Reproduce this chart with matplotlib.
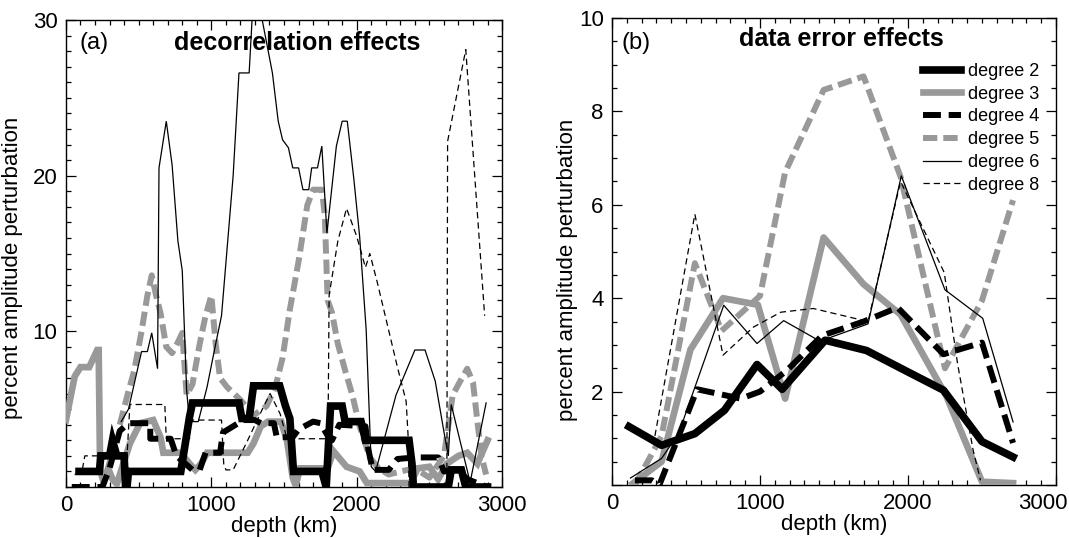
import matplotlib
matplotlib.use('Agg')
import matplotlib.pyplot as plt
from matplotlib.ticker import MultipleLocator
from matplotlib.transforms import ScaledTranslation

plt.rcParams['font.family'] = ['Liberation Sans', 'DejaVu Sans']

# ---- panel (a): decorrelation effects (depth in km, percent) ----
a_deg2_x = [90, 230, 240, 300, 320, 350, 400, 410, 420, 430, 790, 850, 870, 1190, 1210, 1260, 1290, 1470,
            1510, 1540, 1565, 1760, 1790, 1820, 1900, 1920, 2030, 2060, 2360, 2380, 2390, 2630, 2650, 2720,
            2750, 2900]
a_deg2_y = [1.0, 1.0, 2.0, 2.0, 3.0, 2.0, 2.0, 0.0, 0.0, 1.0, 1.0, 4.5, 5.4, 5.4, 4.4, 4.4, 6.5, 6.5,
            5.2, 4.4, 1.0, 1.0, 0.0, 5.2, 5.2, 4.2, 4.2, 3.0, 3.0, 1.5, 0.0, 0.0, 1.1, 1.1,
            0.0, 0.0]

a_deg3_x = [0, 60, 100, 160, 215, 225, 235, 260, 290, 320, 350, 440, 510, 600, 650, 670, 790, 850, 890,
            930, 970, 1250, 1290, 1340, 1390, 1480, 1520, 1560, 1580, 1610, 1800, 1840, 1930, 2020, 2070,
            2370, 2420, 2500, 2560, 2620, 2700, 2760, 2830, 2900]
a_deg3_y = [4.3, 7.1, 7.7, 7.7, 8.8, 8.8, 1.1, 0.3, 1.2, 0.5, 0.2, 2.8, 4.1, 4.3, 3.2, 2.2, 2.2, 1.5, 1.1,
            1.5, 2.2, 2.2, 2.8, 3.9, 4.2, 4.2, 3.0, 0.6, 0.1, 1.2, 1.2, 2.3, 1.3, 1.0, 0.25,
            0.25, 1.2, 1.3, 0.5, 1.5, 2.0, 2.2, 1.5, 3.0]

a_deg4_x = [40, 250, 300, 370, 430, 530, 580, 580, 720, 760, 870, 920, 960, 1060, 1080, 1220, 1300, 1340,
            1430, 1450, 1560, 1600, 1700, 1750, 1800, 1830, 1880, 2060, 2080, 2110, 2220, 2280, 2400, 2560,
            2600, 2700, 2760, 2900]
a_deg4_y = [0.0, 0.0, 1.2, 3.6, 4.1, 4.1, 4.1, 3.1, 3.1, 2.0, 1.1, 1.1, 2.2, 2.2, 3.5, 4.3, 4.3, 4.1,
            4.1, 3.2, 3.2, 3.7, 4.2, 4.1, 3.3, 3.0, 4.0, 3.9, 2.4, 1.1, 1.1, 1.8, 1.9, 1.9,
            1.0, 1.1, 0.5, 0.0]

a_deg5_x = [370, 420, 470, 520, 560, 590, 620, 650, 690, 730, 770, 800, 830, 870, 920, 960, 1000, 1030,
            1060, 1110, 1200, 1290, 1380, 1440, 1490, 1540, 1600, 1660, 1700, 1760, 1780, 1800, 1830, 1870,
            1920, 1970, 2020, 2090, 2150, 2220, 2300, 2400, 2500, 2600, 2660, 2700, 2760, 2800, 2830, 2860,
            2890]
a_deg5_y = [4.0, 5.8, 7.5, 10.0, 12.3, 13.6, 12.3, 11.2, 9.0, 8.6, 9.3, 9.9, 5.9, 6.6, 9.2, 11.0, 12.3, 9.2,
            7.0, 6.4, 5.6, 4.6, 5.2, 6.4, 8.3, 11.4, 14.5, 18.1, 19.1, 19.1, 17.5, 12.0, 11.2, 9.2,
            7.5, 5.9, 3.9, 1.9, 1.2, 0.8, 1.0, 1.2, 0.6, 2.0, 5.9, 6.6, 7.6, 6.7, 4.2, 1.9,
            0.8]

a_deg6_x = [380, 430, 520, 560, 590, 630, 640, 690, 730, 770, 800, 830, 850, 910, 970, 1030, 1070, 1150,
            1190, 1260, 1280, 1350, 1420, 1460, 1490, 1530, 1560, 1600, 1630, 1670, 1690, 1730, 1760, 1795,
            1860, 1900, 1935, 1980, 2020, 2065, 2100, 2130, 2270, 2400, 2470, 2540, 2610, 2630, 2650, 2780,
            2890]
a_deg6_y = [4.2, 5.0, 8.7, 8.7, 9.9, 7.6, 20.5, 23.5, 20.7, 15.8, 13.9, 6.2, 4.2, 4.2, 6.4, 9.2, 11.0, 20.0,
            26.6, 26.6, 30.0, 30.0, 26.6, 23.5, 22.3, 21.8, 20.5, 20.5, 19.1, 19.1, 20.5, 20.5, 21.9, 16.3,
            21.9, 23.5, 23.5, 19.8, 16.1, 10.1, 1.3, 1.0, 5.9, 8.8, 8.8, 6.8, 3.0, 2.0, 5.3, 0.3,
            5.4]

a_deg8_x = [60, 110, 130, 420, 440, 680, 690, 850, 860, 1070, 1085, 1100, 1150, 1250, 1356, 1404, 1473,
            1521, 1790, 1800, 1810, 1870, 1930, 2000, 2060, 2090, 2140, 2280, 2340, 2355, 2360, 2620, 2625,
            2750, 2880]
a_deg8_y = [0.8, 1.0, 2.0, 2.0, 5.3, 5.3, 3.1, 3.1, 4.3, 4.3, 1.5, 1.1, 1.1, 3.0, 5.1, 6.0, 4.7,
            3.1, 3.1, 0.3, 12.3, 15.8, 17.9, 16.1, 14.1, 15.0, 13.2, 7.7, 5.5, 3.0, 0.0, 0.0, 22.2,
            28.1, 11.0]

# ---- panel (b): data error effects ----
b_deg2_x = [115, 335, 560, 760, 980, 1150, 1440, 1720, 1970, 2240, 2500, 2710]
b_deg2_y = [1.25, 0.85, 1.1, 1.6, 2.58, 2.05, 3.1, 2.88, 2.47, 2.03, 0.93, 0.6]

b_deg3_x = [140, 335, 530, 750, 985, 1170, 1430, 1700, 1950, 2260, 2500, 2710]
b_deg3_y = [0.03, 0.5, 2.9, 4.0, 3.86, 1.85, 5.3, 4.3, 3.65, 1.9, 0.07, 0.04]

b_deg4_x = [155, 270, 320, 575, 870, 1000, 1180, 1420, 1700, 1930, 2240, 2500, 2710]
b_deg4_y = [0.1, 0.1, 0.0, 2.05, 1.85, 2.0, 2.45, 3.2, 3.5, 3.8, 2.8, 3.05, 0.9]

b_deg5_x = [155, 335, 560, 740, 1000, 1170, 1430, 1700, 1950, 2250, 2500, 2710]
b_deg5_y = [0.0, 1.05, 4.75, 3.3, 4.05, 6.7, 8.46, 8.75, 6.6, 2.5, 3.95, 6.1]

b_deg6_x = [125, 335, 450, 755, 980, 1160, 1405, 1730, 1955, 2250, 2505, 2710]
b_deg6_y = [0.15, 0.57, 1.1, 3.85, 3.03, 3.52, 3.08, 3.45, 6.62, 4.18, 3.57, 1.35]

b_deg8_x = [290, 560, 750, 955, 1140, 1360, 1730, 1950, 2245, 2335, 2440, 2490]
b_deg8_y = [1.05, 5.8, 2.78, 3.38, 3.7, 3.78, 3.5, 6.5, 4.55, 2.6, 0.75, 0.1]

labels = ['degree 2', 'degree 3', 'degree 4', 'degree 5', 'degree 6', 'degree 8']

gray = '#999999'
styles = [
    dict(color='black', lw=5.5, zorder=6),
    dict(color=gray, lw=4.8, zorder=3),
    dict(color='black', lw=4.3, dashes=(3.0, 1.3), zorder=5),
    dict(color=gray, lw=4.3, dashes=(2.4, 1.0), zorder=2),
    dict(color='black', lw=0.9, zorder=4),
    dict(color='black', lw=0.9, dashes=(5, 3.2), zorder=4),
]

fig = plt.figure(figsize=(10.69, 5.38), dpi=100)
ax1 = fig.add_axes([0.0617, 0.0948, 0.408, 0.868])
ax2 = fig.add_axes([0.5725, 0.0985, 0.4153, 0.868])

series_a = [(a_deg2_x, a_deg2_y), (a_deg3_x, a_deg3_y), (a_deg4_x, a_deg4_y),
            (a_deg5_x, a_deg5_y), (a_deg6_x, a_deg6_y), (a_deg8_x, a_deg8_y)]
series_b = [(b_deg2_x, b_deg2_y), (b_deg3_x, b_deg3_y), (b_deg4_x, b_deg4_y),
            (b_deg5_x, b_deg5_y), (b_deg6_x, b_deg6_y), (b_deg8_x, b_deg8_y)]

for (x, y), st in zip(series_a, styles):
    ax1.plot(x, y, solid_joinstyle='miter', **st)
for (x, y), st, lab in zip(series_b, styles, labels):
    ax2.plot(x, y, label=lab, **st)

for ax in (ax1, ax2):
    ax.set_xlim(0, 3000)
    ax.set_xticks([0, 1000, 2000, 3000])
    ax.xaxis.set_minor_locator(MultipleLocator(100))
    ax.tick_params(which='both', direction='in', top=True, right=True, labelsize=16, width=0.9)
    ax.tick_params(which='major', length=7, pad=6)
    ax.tick_params(which='minor', length=3.5)
    ax.set_xlabel('depth (km)', fontsize=16, labelpad=0)
    ax.set_ylabel('percent amplitude perturbation', fontsize=16)
    for s in ax.spines.values():
        s.set_linewidth(1.0)

ax1.set_ylim(0, 30)
ax1.set_yticks([0, 10, 20, 30])
ax1.set_yticklabels(['', '10', '20', '30'])
ax1.yaxis.set_minor_locator(MultipleLocator(1))
ax1.yaxis.set_label_coords(-0.099, 0.47)

ax2.set_ylim(0, 10)
ax2.set_yticks([0, 2, 4, 6, 8, 10])
ax2.set_yticklabels(['', '2', '4', '6', '8', '10'])
ax2.yaxis.set_minor_locator(MultipleLocator(0.5))
ax2.yaxis.set_label_coords(-0.077, 0.46)

# the last depth label sits against the page edge in the original
last = ax2.get_xticklabels()[-1]
last.set_ha('right')
last.set_transform(last.get_transform() + ScaledTranslation(0.12, 0, fig.dpi_scale_trans))

ax1.text(0.03, 0.95, '(a)', transform=ax1.transAxes, fontsize=17, va='center', ha='left')
ax1.text(0.53, 0.95, 'decorrelation effects', transform=ax1.transAxes, fontsize=18,
         fontweight='bold', va='center', ha='center')
ax2.text(0.022, 0.947, '(b)', transform=ax2.transAxes, fontsize=17, va='center', ha='left')
ax2.text(0.517, 0.956, 'data error effects', transform=ax2.transAxes, fontsize=18,
         fontweight='bold', va='center', ha='center')

ax2.legend(loc='upper left', bbox_to_anchor=(0.70, 0.904), frameon=False, fontsize=13,
           handlelength=2.1, handletextpad=0.4, labelspacing=0.32, borderpad=0, borderaxespad=0)

fig.savefig('out.png', dpi=100)
